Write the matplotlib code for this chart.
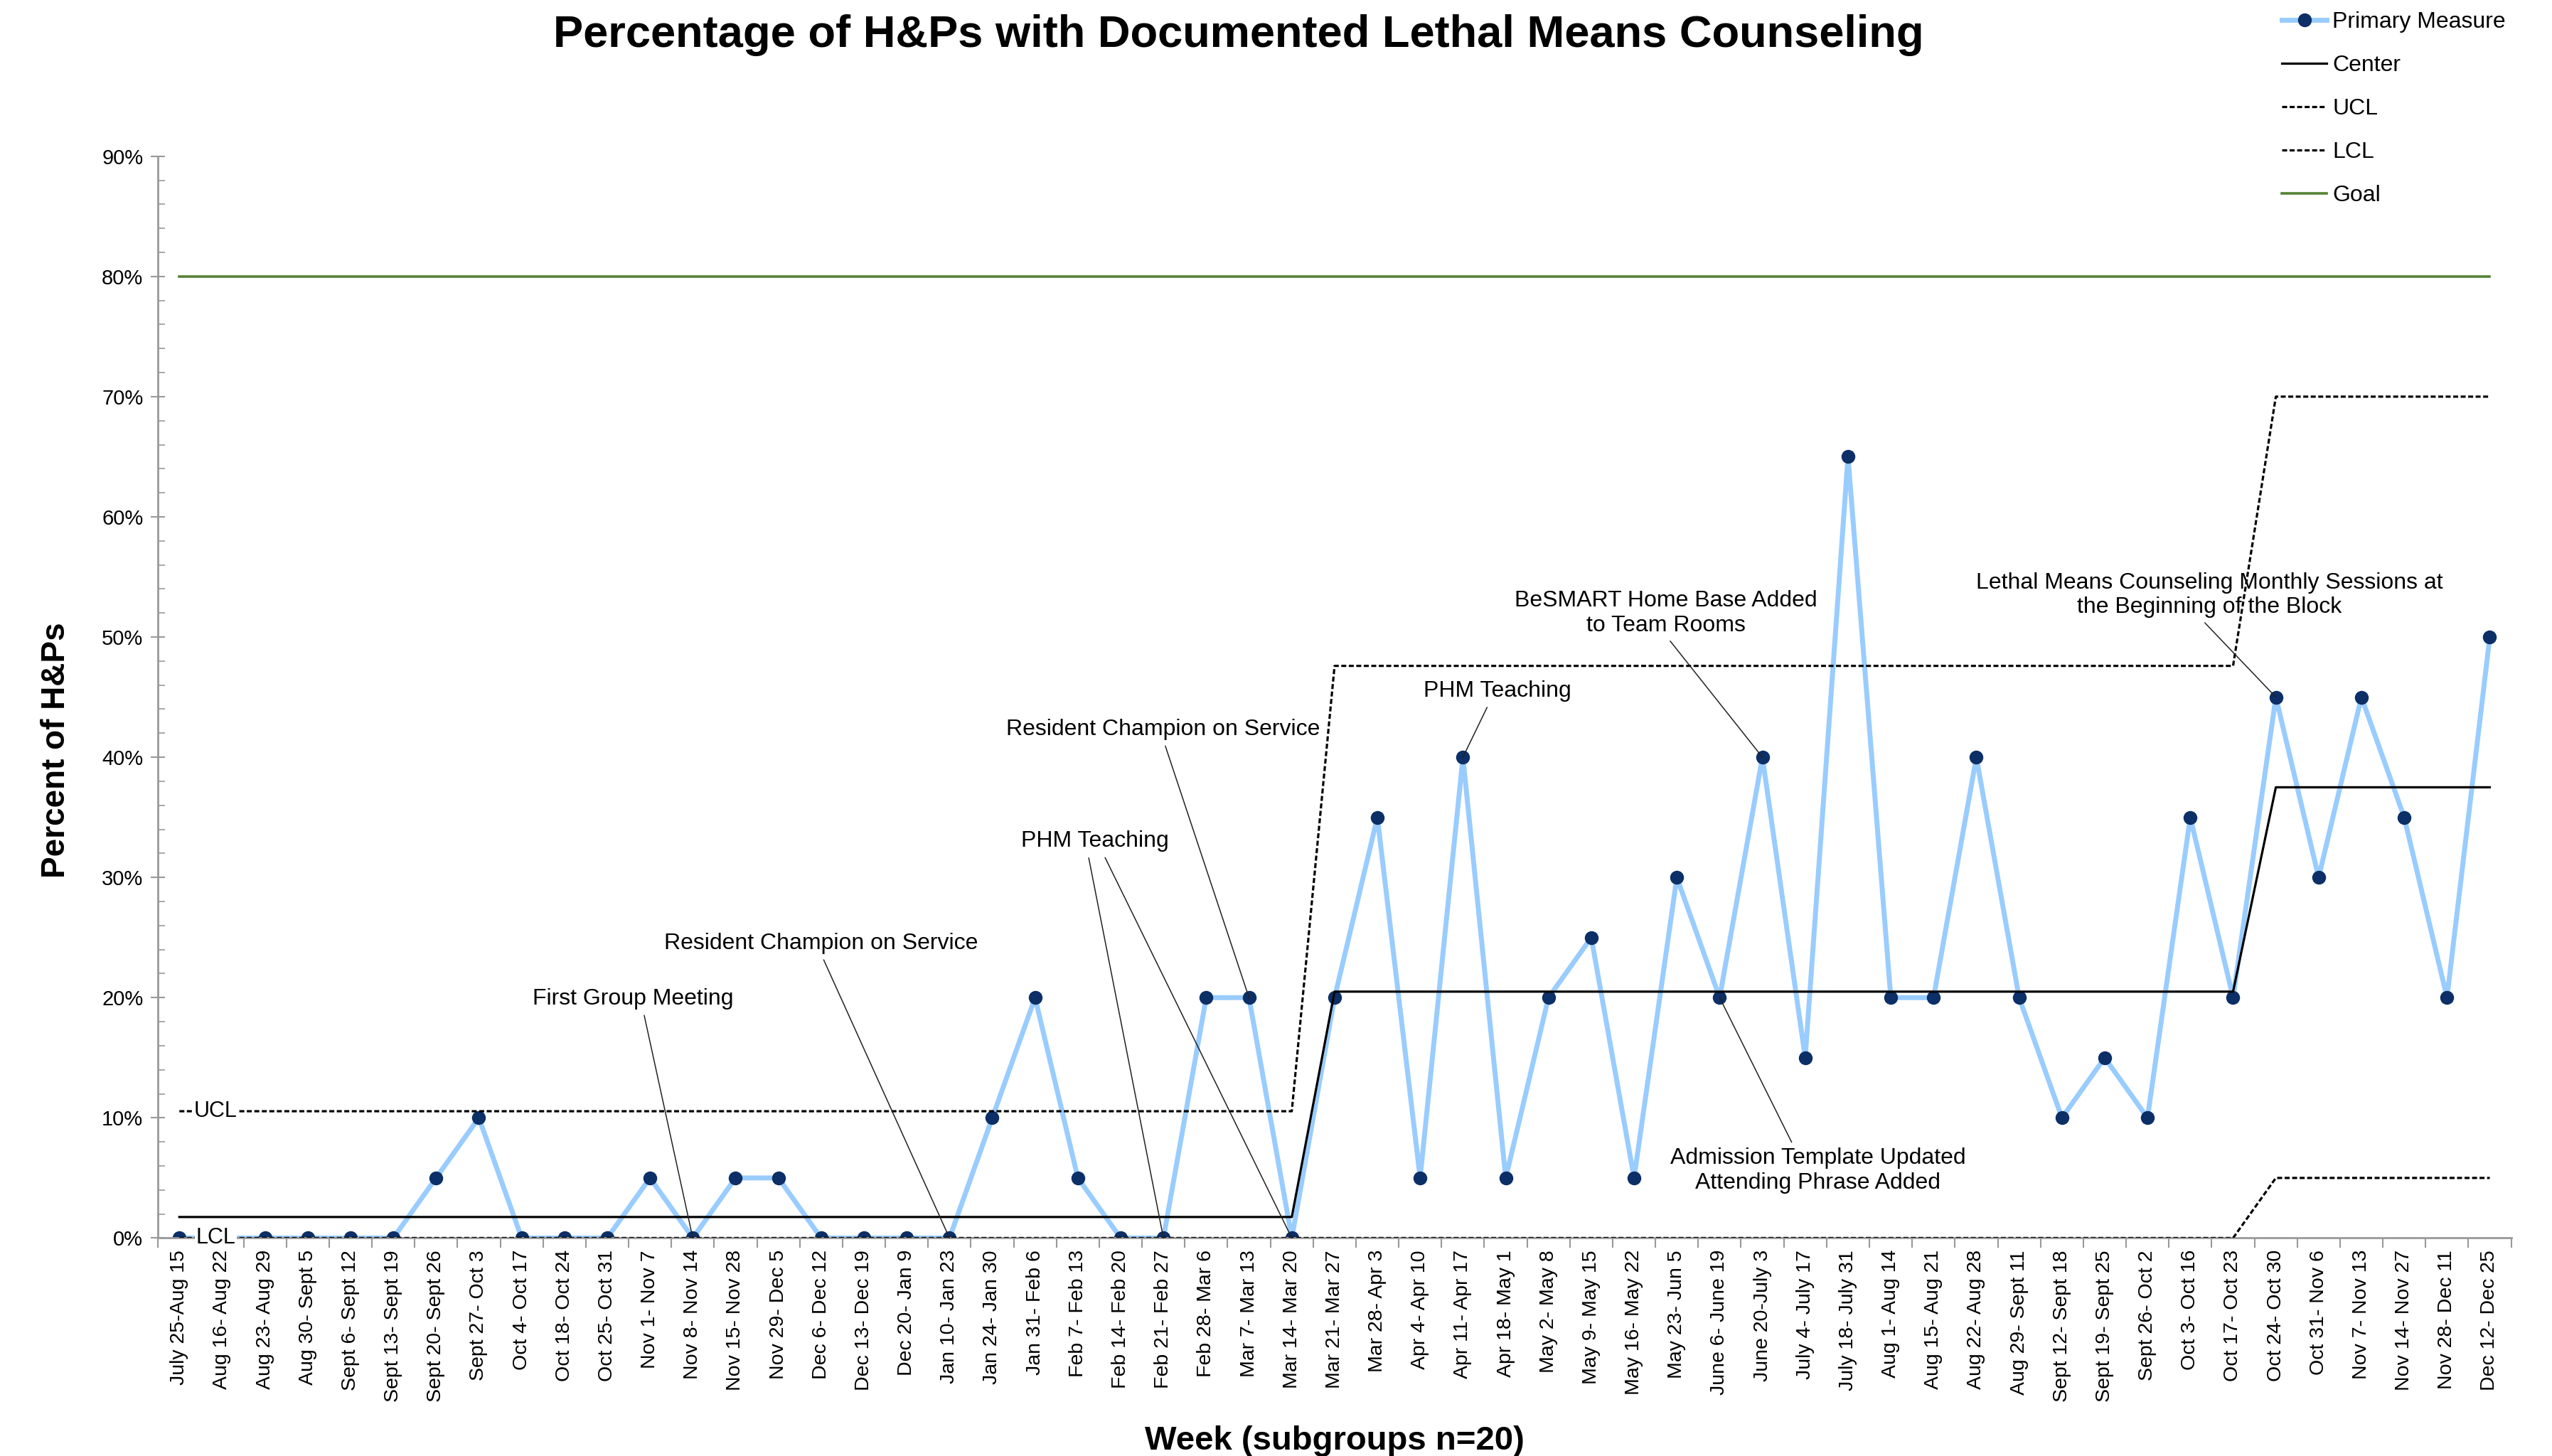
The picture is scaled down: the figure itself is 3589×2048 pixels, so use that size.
import numpy as np
import matplotlib.pyplot as plt
from matplotlib.ticker import FixedLocator, MultipleLocator, FuncFormatter
from matplotlib.lines import Line2D

plt.rcParams['font.family'] = ['Liberation Sans', 'DejaVu Sans']
NARROW = ['Liberation Sans Narrow', 'Liberation Sans', 'DejaVu Sans']

# weekly subgroups
weeks = [
    'July 25-Aug 15', 'Aug 16- Aug 22', 'Aug 23- Aug 29', 'Aug 30- Sept 5',
    'Sept 6- Sept 12', 'Sept 13- Sept 19', 'Sept 20- Sept 26', 'Sept 27- Oct 3',
    'Oct 4- Oct 17', 'Oct 18- Oct 24', 'Oct 25- Oct 31', 'Nov 1- Nov 7',
    'Nov 8- Nov 14', 'Nov 15- Nov 28', 'Nov 29- Dec 5', 'Dec 6- Dec 12',
    'Dec 13- Dec 19', 'Dec 20- Jan 9', 'Jan 10- Jan 23', 'Jan 24- Jan 30',
    'Jan 31- Feb 6', 'Feb 7- Feb 13', 'Feb 14- Feb 20', 'Feb 21- Feb 27',
    'Feb 28- Mar 6', 'Mar 7- Mar 13', 'Mar 14- Mar 20', 'Mar 21- Mar 27',
    'Mar 28- Apr 3', 'Apr 4- Apr 10', 'Apr 11- Apr 17', 'Apr 18- May 1',
    'May 2- May 8', 'May 9- May 15', 'May 16- May 22', 'May 23- Jun 5',
    'June 6- June 19', 'June 20-July 3', 'July 4- July 17', 'July 18- July 31',
    'Aug 1- Aug 14', 'Aug 15- Aug 21', 'Aug 22- Aug 28', 'Aug 29- Sept 11',
    'Sept 12- Sept 18', 'Sept 19- Sept 25', 'Sept 26- Oct 2', 'Oct 3- Oct 16',
    'Oct 17- Oct 23', 'Oct 24- Oct 30', 'Oct 31- Nov 6', 'Nov 7- Nov 13',
    'Nov 14- Nov 27', 'Nov 28- Dec 11', 'Dec 12- Dec 25',
]

# percent of H&Ps with documented counseling
pct = [0, 0, 0, 0, 0, 0, 5, 10, 0, 0, 0, 5, 0, 5, 5, 0, 0, 0, 0, 10,
       20, 5, 0, 0, 20, 20, 0, 20, 35, 5, 40, 5, 20, 25, 5, 30, 20, 40, 15, 65,
       20, 20, 40, 20, 10, 15, 10, 35, 20, 45, 30, 45, 35, 20, 50]

# control limits per phase
phase_len = [27, 22, 6]
center_vals = [1.75, 20.5, 37.5]
ucl_vals = [10.55, 47.6, 70.0]
lcl_vals = [0, 0, 5]
goal_val = 80

# annotations
note_text = [
    'First Group Meeting',
    'Resident Champion on Service',
    'PHM Teaching',
    'PHM Teaching',
    'Resident Champion on Service',
    'PHM Teaching',
    'BeSMART Home Base Added\nto Team Rooms',
    'Lethal Means Counseling Monthly Sessions at\nthe Beginning of the Block',
    'Admission Template Updated\nAttending Phrase Added',
]
note_target = [12, 18, 23, 26, 25, 30, 37, 49, 36]

center = np.repeat(center_vals, phase_len)
ucl = np.repeat(ucl_vals, phase_len)
lcl = np.repeat(lcl_vals, phase_len)
goal = np.full(len(weeks), goal_val)
x = np.arange(len(weeks))

fig = plt.figure(figsize=(35.89, 20.48), dpi=100)
ax = fig.add_axes([0.0619, 0.1497, 0.984 - 0.0619, 0.8927 - 0.1497])

blue = '#99ccff'
navy = '#0b2f66'
dash = (0, (2.2, 1.1))

ax.plot(x, pct, color=blue, lw=5, marker='o', ms=13, mfc=navy, mec=navy,
        zorder=2)
ax.plot(x, center, color='black', lw=2.3, zorder=3)
ax.plot(x, ucl, color='black', lw=2.3, ls=dash, zorder=3)
ax.plot(x, lcl, color='black', lw=2.3, ls=dash, zorder=3)
ax.plot(x, goal, color='#548235', lw=2.6, zorder=3)

# labels for the limit lines
for y, s in [(ucl_vals[0], 'UCL'), (lcl_vals[0], 'LCL')]:
    ax.text(0.85, y, s, ha='center', va='center', fontsize=22, family=NARROW,
            zorder=5, bbox=dict(facecolor='white', edgecolor='none', pad=1))

# axes styling
ax.set_xlim(-0.5, len(weeks) - 0.5)
ax.set_ylim(0, 90)
ax.spines['top'].set_visible(False)
ax.spines['right'].set_visible(False)
for sp in ['left', 'bottom']:
    ax.spines[sp].set_color('#999999')
    ax.spines[sp].set_linewidth(2)

ax.yaxis.set_major_locator(MultipleLocator(10))
ax.yaxis.set_minor_locator(MultipleLocator(2))
ax.yaxis.set_major_formatter(FuncFormatter(lambda v, p: '%d%%' % v))
ax.tick_params(axis='y', which='major', direction='inout', length=14,
               width=1.5, color='#999999', labelsize=21, pad=8)
ax.tick_params(axis='y', which='minor', direction='in', length=7,
               width=1.2, color='#999999')

ax.set_xticks(x)
ax.set_xticklabels(weeks, rotation=90)
ax.xaxis.set_minor_locator(FixedLocator(np.arange(-0.5, len(weeks), 1)))
ax.tick_params(axis='x', which='major', length=0, labelsize=20.5, pad=12)
ax.tick_params(axis='x', which='minor', direction='out', length=10,
               width=1.5, color='#999999')

ax.set_xlabel('Week (subgroups n=20)', fontsize=34, fontweight='bold',
              family=NARROW, labelpad=24)
ax.set_ylabel('Percent of H&Ps', fontsize=33, fontweight='bold',
              family=NARROW, labelpad=40)
ax.yaxis.set_label_coords(-0.0365, 0.451)

fig.text(0.4853, 0.976, 'Percentage of H&Ps with Documented Lethal Means Counseling',
         ha='center', va='center', fontsize=45.5, fontweight='bold')

# annotations: text center (category index, percent), anchor on text box
note_pos = [(10.6, 19.9), (15.0, 24.5), (21.4, 33.0), (21.4, 33.0), (23.0, 42.3),
            (30.8, 45.5), (34.75, 52.0), (47.45, 53.5), (38.3, 5.6)]
note_rel = [(0.55, 0), (0.5, 0), (0.45, 0), (0.55, 0), (0.5, 0),
            (0.45, 0), (0.5, 0), (0.48, 0), (0.42, 1)]
for i, (s, t) in enumerate(zip(note_text, note_target)):
    ax.annotate(s, xy=(t, pct[t]), xytext=note_pos[i], ha='center', va='center',
                fontsize=23, color='black' if i != 3 else 'none', zorder=6,
                arrowprops=dict(arrowstyle='-', color='#222222', lw=1.1,
                                shrinkA=4, shrinkB=0, relpos=note_rel[i]))

# legend
handles = [
    Line2D([], [], color=blue, lw=5, marker='o', ms=13, mfc=navy, mec=navy),
    Line2D([], [], color='black', lw=2.3),
    Line2D([], [], color='black', lw=2.3, ls=dash),
    Line2D([], [], color='black', lw=2.3, ls=dash),
    Line2D([], [], color='#548235', lw=2.6),
]
fig.legend(handles, ['Primary Measure', 'Center', 'UCL', 'LCL', 'Goal'],
           loc='upper left', bbox_to_anchor=(0.886, 1.006), frameon=False,
           fontsize=23, handlelength=2.0, labelspacing=0.97, handletextpad=0.25)

fig.savefig('out.png', dpi=100)
